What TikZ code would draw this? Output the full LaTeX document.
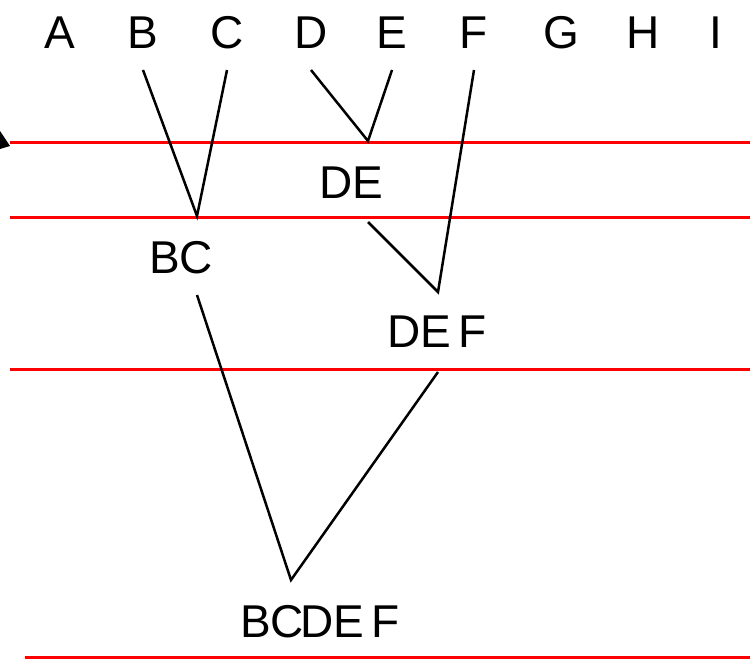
\documentclass[tikz,border=0pt]{standalone}
\usepackage{fontspec}
\setmainfont{Liberation Sans}
\begin{document}
\begin{tikzpicture}[x=1pt,y=-1pt,
  lab/.style={inner sep=0pt,font=\fontsize{46}{46}\selectfont},
  redline/.style={draw=red,line width=3pt},
  tree/.style={draw=black,line width=2.5pt}]
\useasboundingbox (0,0) rectangle (750,660);
% leaf labels
\node[lab] (A) at (60,33) {A};
\node[lab] (B) at (143,33) {B};
\node[lab] (C) at (227,33) {C};
\node[lab] (D) at (311,33) {D};
\node[lab] (E) at (392,33) {E};
\node[lab] (F) at (474,33) {F};
\node[lab] (G) at (561,33) {G};
\node[lab] (H) at (643,33) {H};
\node[lab] (I) at (716,33) {I};
% red level lines
\coordinate (r1a) at (10,143); \coordinate (r1b) at (750,143);
\coordinate (r2a) at (10,218); \coordinate (r2b) at (750,218);
\coordinate (r3a) at (10,370); \coordinate (r3b) at (750,370);
\coordinate (r4a) at (25,657); \coordinate (r4b) at (750,657);
\draw[redline] (r1a) -- (r1b);
\draw[redline] (r2a) -- (r2b);
\draw[redline] (r3a) -- (r3b);
\draw[redline] (r4a) -- (r4b);
% arrowhead at left edge
\fill[black] (0,131) -- (10,146) -- (0,149) -- cycle;
% internal labels
\node[lab] (DE) at (351,183) {DE};
\node[lab] (BC) at (181,258) {BC};
\node[lab] (DEF) at (437,332) {DE\,F};
\node[lab] (BCDEF) at (320,622) {BC\kern-4pt DE\,F};
% junctions
\coordinate (jB) at (143,70); \coordinate (jC) at (227,70);
\coordinate (jD) at (311,70); \coordinate (jE) at (392,70);
\coordinate (jF) at (474,70);
\coordinate (jBC) at (197,216);
\coordinate (jDE) at (368,141);
\coordinate (jDEt) at (368,222);
\coordinate (jDEF) at (438,292);
\coordinate (jBCt) at (197,295);
\coordinate (jDEFt) at (438,372);
\coordinate (jBCDEF) at (291,580);
\draw[tree] (jB) -- (jBC) -- (jC);
\draw[tree] (jD) -- (jDE) -- (jE);
\draw[tree] (jDEt) -- (jDEF) -- (jF);
\draw[tree] (jBCt) -- (jBCDEF) -- (jDEFt);
\end{tikzpicture}
\end{document}
